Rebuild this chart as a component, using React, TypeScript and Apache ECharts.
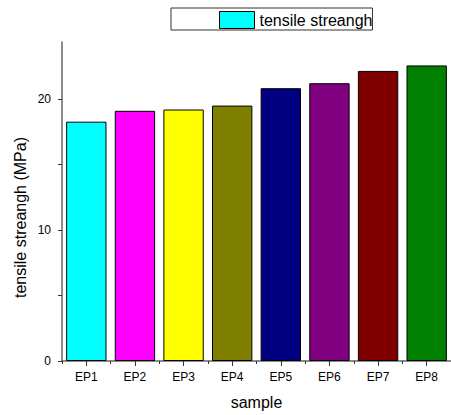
import React, { useEffect, useRef } from "react";
import * as echarts from "echarts";

const categories = ["EP1", "EP2", "EP3", "EP4", "EP5", "EP6", "EP7", "EP8"];
const values = [18.29, 19.12, 19.22, 19.52, 20.85, 21.23, 22.17, 22.59];
const barColors = ["#00FFFF", "#FF00FF", "#FFFF00", "#808000", "#000080", "#800080", "#800000", "#008000"];
const yLabels = [0, 10, 20];
const yTicks = [0, 5, 10, 15, 20];
const xTitle = "sample";
const yTitle = "tensile streangh (MPa)";
const seriesName = "tensile streangh";

export default function App() {
  const ref = useRef<HTMLDivElement>(null);
  useEffect(() => {
    if (!ref.current) return;
    document.body.style.margin = "0";
    const chart = echarts.init(ref.current, null, { renderer: "svg" });
    const font = "Liberation Sans, Arial, sans-serif";
    chart.setOption({
      animation: false,
      textStyle: { fontFamily: font },
      grid: { left: 62, top: 42, right: -8, bottom: 50, containLabel: false },
      graphic: [
        {
          type: "text",
          x: 20.5,
          y: 217.5,
          rotation: Math.PI / 2,
          style: {
            text: yTitle,
            fontSize: 16,
            fontFamily: font,
            fill: "#000",
            align: "center",
            verticalAlign: "middle",
          },
        },
      ],
      legend: {
        left: 171,
        top: 8,
        padding: [3, 0, 1, 48],
        itemWidth: 35,
        itemHeight: 17,
        itemGap: 0,
        icon: "rect",
        borderColor: "#333",
        borderWidth: 1,
        textStyle: { fontSize: 16, color: "#000", fontFamily: font },
        data: [{ name: seriesName, itemStyle: { color: "#00FFFF", borderColor: "#000", borderWidth: 1 } }],
      },
      xAxis: [
        {
          type: "category",
          data: categories,
          name: xTitle,
          nameLocation: "middle",
          nameGap: 33,
          nameTextStyle: { fontSize: 16, color: "#000", fontFamily: font },
          axisLine: { lineStyle: { color: "#666", width: 1.5 } },
          axisTick: { show: true, length: 3, lineStyle: { color: "#333" } },
          axisLabel: { fontSize: 12, color: "#000", margin: 10, fontFamily: font },
        },
        {
          type: "category",
          data: categories,
          position: "bottom",
          axisLine: { show: false },
          axisTick: { show: true, alignWithLabel: true, length: 5, lineStyle: { color: "#333" } },
          axisLabel: { show: false },
        },
      ],
      yAxis: {
        type: "value",
        min: 0,
        max: 24.38,
        interval: 5,
        axisLine: { show: true, lineStyle: { color: "#666", width: 1.5 } },
        axisTick: { show: true, length: 4, customValues: yTicks, lineStyle: { color: "#333" } },
        axisLabel: { fontSize: 12, color: "#000", margin: 11, customValues: yLabels, fontFamily: font },
        splitLine: { show: false },
      },
      series: [
        {
          type: "bar",
          name: seriesName,
          barWidth: "83%",
          itemStyle: { color: "#00FFFF", borderColor: "#000", borderWidth: 1 },
          data: values.map((v, i) => ({ value: v, itemStyle: { color: barColors[i] } })),
        },
      ],
    });
    return () => chart.dispose();
  }, []);
  return <div ref={ref} style={{ width: 451, height: 415 }} />;
}
